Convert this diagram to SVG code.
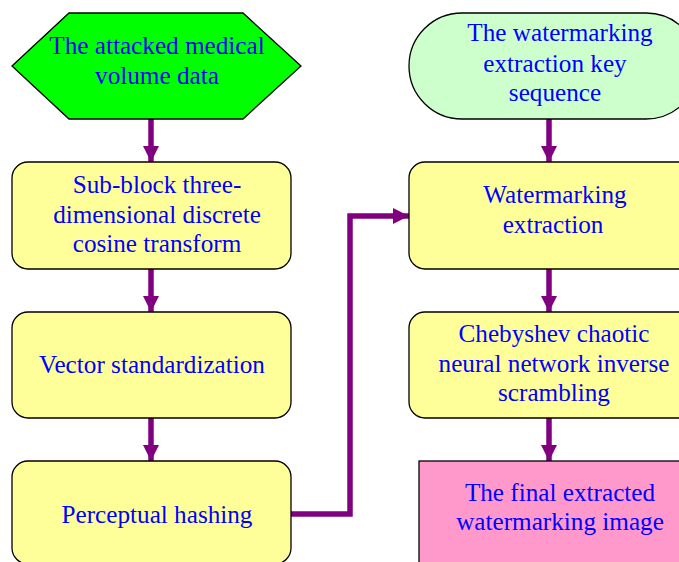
<svg xmlns="http://www.w3.org/2000/svg" width="679" height="562" viewBox="0 0 679 562">
<defs>
<style>
.t{font-family:"Liberation Serif","Times New Roman",serif;font-size:25.2px;fill:#0000FF;text-anchor:middle}
.box{fill:#FFFF99;stroke:#000;stroke-width:1.3}
.con{fill:none;stroke:#800080;stroke-width:5.5}
</style>
<marker id="ah" markerUnits="userSpaceOnUse" markerWidth="16" markerHeight="16" viewBox="0 0 16 16" refX="16" refY="8" orient="auto">
<path d="M0,0 L16,8 L0,16 Z" fill="#800080"/>
</marker>
</defs>
<rect width="679" height="562" fill="#fff"/>
<g id="connectors">
<line class="con" x1="151" y1="119" x2="151" y2="162" marker-end="url(#ah)"/>
<line class="con" x1="151" y1="269" x2="151" y2="312" marker-end="url(#ah)"/>
<line class="con" x1="151" y1="418" x2="151" y2="461" marker-end="url(#ah)"/>
<polyline class="con" points="291,514 350,514 350,216 409,216" marker-end="url(#ah)"/>
<line class="con" x1="549" y1="119" x2="549" y2="162" marker-end="url(#ah)"/>
<line class="con" x1="549" y1="269" x2="549" y2="312" marker-end="url(#ah)"/>
<line class="con" x1="549" y1="418" x2="549" y2="461" marker-end="url(#ah)"/>
</g>
<g id="attacked">
<polygon points="12,66 69,13 243,13 301,66 243,119 69,119" fill="#00FF00" stroke="#000" stroke-width="1.3"/>
<text class="t" x="157" y="54">The attacked medical</text>
<text class="t" x="157" y="84">volume data</text>
</g>
<g id="dct">
<rect class="box" x="12" y="162" width="279" height="107" rx="16"/>
<text class="t" x="157" y="193">Sub-block three-</text>
<text class="t" x="157" y="223">dimensional discrete</text>
<text class="t" x="157" y="252">cosine transform</text>
</g>
<g id="vector">
<rect class="box" x="12" y="312" width="279" height="106" rx="16"/>
<text class="t" x="152" y="373">Vector standardization</text>
</g>
<g id="hash">
<rect class="box" x="12" y="461" width="279" height="103" rx="16"/>
<text class="t" x="157" y="523">Perceptual hashing</text>
</g>
<g id="key">
<rect x="409" y="13" width="290" height="106" rx="53" fill="#CCFFCC" stroke="#000" stroke-width="1.3"/>
<text class="t" x="560" y="41">The watermarking</text>
<text class="t" x="555" y="72">extraction key</text>
<text class="t" x="555" y="101">sequence</text>
</g>
<g id="extract">
<rect class="box" x="409" y="162" width="290" height="107" rx="16"/>
<text class="t" x="555" y="203">Watermarking</text>
<text class="t" x="553" y="233">extraction</text>
</g>
<g id="chebyshev">
<rect class="box" x="409" y="312" width="290" height="106" rx="16"/>
<text class="t" x="554" y="342">Chebyshev chaotic</text>
<text class="t" x="554" y="372">neural network inverse</text>
<text class="t" x="554" y="401">scrambling</text>
</g>
<g id="final">
<rect x="419" y="461" width="290" height="120" fill="#FF99CC" stroke="#000" stroke-width="1.3"/>
<text class="t" x="560" y="501">The final extracted</text>
<text class="t" x="560" y="530">watermarking image</text>
</g>
</svg>
